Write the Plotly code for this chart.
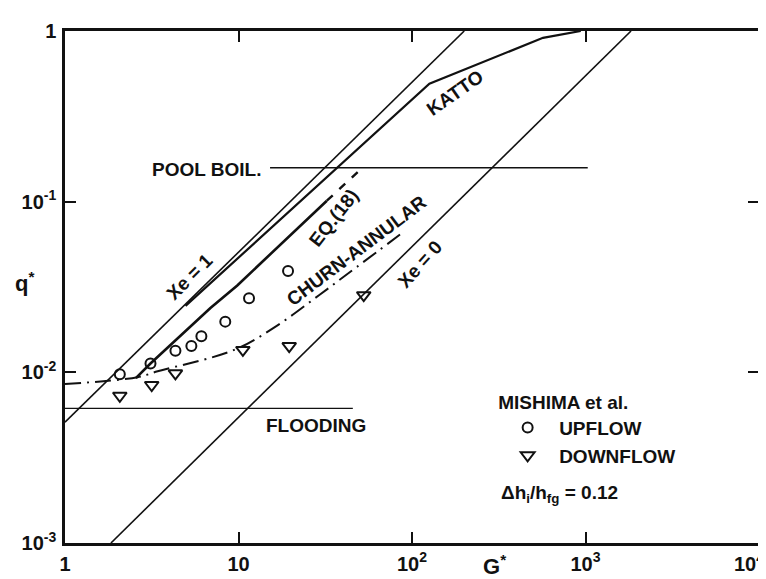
import plotly.graph_objects as go

# ---------------- data ----------------
up_G = [2.07, 3.11, 4.33, 5.35, 6.11, 8.39, 11.5, 19.3]
up_q = [0.00975, 0.01126, 0.01336, 0.01426, 0.01626, 0.01982, 0.0272, 0.0393]

down_G = [2.07, 3.16, 4.33, 10.6, 19.6, 52.7]
down_q = [0.00729, 0.00843, 0.00987, 0.01353, 0.01426, 0.0283]

xe1_G = [1.0, 200.0]
xe1_q = [0.0051, 1.0]

xe0_G = [1.84, 1830.0]
xe0_q = [0.001, 1.0]

katto_G = [4.95, 126.0, 569.0, 939.0]
katto_q = [0.0245, 0.491, 0.912, 1.0]

eq18_G = [2.56, 3.11, 6.89, 9.84, 32.3]
eq18_q = [0.00924, 0.01126, 0.0238, 0.0323, 0.1013]
eq18_ext_G = [32.3, 52.7]
eq18_ext_q = [0.1013, 0.1606]

churn_G = [1.0, 2.62, 3.42, 9.45, 16.7, 29.1, 48.0, 89.4]
churn_q = [0.00854, 0.00936, 0.01014, 0.01353, 0.0188, 0.0283, 0.0414, 0.0665]

pool_G = [15.2, 1030.0]
pool_q = [0.158, 0.158]

flood_G = [1.0, 45.6]
flood_q = [0.00615, 0.00615]

x_tickvals = [1, 10, 100, 1000, 10000]
x_ticktext = ["1", "10", "10<sup>2</sup>", "10<sup>3</sup>", ""]
x_last_label = "10<sup>4</sup>"
y_tickvals = [0.001, 0.01, 0.1, 1]
y_ticktext = ["10<sup>-3</sup>", "10<sup>-2</sup>", "10<sup>-1</sup>", "1"]

FONT = "Liberation Sans, Arial, Helvetica, sans-serif"
BLACK = "#111111"

fig = go.Figure()

def line(x, y, width=1.5, dash="solid", shape="linear"):
    fig.add_trace(go.Scatter(x=x, y=y, mode="lines", showlegend=False,
                             line=dict(color=BLACK, width=width, dash=dash, shape=shape),
                             hoverinfo="skip"))

line(xe1_G, xe1_q, 1.6)
line(xe0_G, xe0_q, 1.6)
line(katto_G, katto_q, 2.2)
line(eq18_G, eq18_q, 2.6)
line(eq18_ext_G, eq18_ext_q, 2.4, dash="8px,9px")
line(churn_G, churn_q, 2.0, dash="16px,6px,2px,6px", shape="spline")
line(pool_G, pool_q, 1.4)
line(flood_G, flood_q, 1.4)

fig.add_trace(go.Scatter(x=up_G, y=up_q, mode="markers", name="UPFLOW",
                         marker=dict(symbol="circle-open", size=10, color=BLACK,
                                     line=dict(width=2, color=BLACK))))
fig.add_trace(go.Scatter(x=down_G, y=down_q, mode="markers", name="DOWNFLOW",
                         marker=dict(symbol="triangle-down-open", size=12, color=BLACK,
                                     line=dict(width=2, color=BLACK))))

def ann(text, lx, ly, angle=0, size=19):
    fig.add_annotation(x=lx, y=ly, xref="x", yref="y",
                       text=text, showarrow=False, textangle=angle,
                       xanchor="center", yanchor="middle",
                       font=dict(family=FONT, size=size, color=BLACK, weight="bold"))

# label positions in log10 units
ann("Xe = 1", 0.720, -1.440, -45)
ann("EQ.(18)", 1.549, -1.091, -52)
ann("CHURN-ANNULAR", 1.681, -1.286, -37)
ann("Xe = 0", 2.043, -1.366, -48)
ann("KATTO", 2.250, -0.360, -35)
ann("POOL BOIL.", 0.815, -0.811)
ann("FLOODING", 1.446, -2.314)

W, H = 766, 579
L, R, T, B = 57, 12, 16, 38
pw, ph = W - L - R, H - T - B
def px(xp):
    return (xp - L) / pw
def py(yp):
    return (H - B - yp) / ph

def pann(text, x, y, size=19, xanchor="center"):
    fig.add_annotation(x=px(x), y=py(y), xref="paper", yref="paper",
                       xanchor=xanchor, yanchor="middle", text=text, showarrow=False,
                       font=dict(family=FONT, size=size, color=BLACK, weight="bold"))

pann("Δh<sub>i</sub>/h<sub>fg</sub> = 0.12", 493, 491, xanchor="left")
pann("q<sup>*</sup>", 16, 273, size=22)
pann("G<sup>*</sup>", 488, 564, size=22)
pann(x_last_label, 744, 561, size=20)

axis_common = dict(type="log", showgrid=False, zeroline=False, showline=True,
                   linecolor=BLACK, linewidth=2.5, mirror="ticks", ticks="inside",
                   ticklen=11, tickwidth=2, tickcolor=BLACK,
                   tickfont=dict(family=FONT, size=20, color=BLACK, weight="bold"))

fig.update_layout(
    width=W, height=H,
    margin=dict(l=L, r=R, t=T, b=B),
    paper_bgcolor="white", plot_bgcolor="white",
    xaxis=dict(range=[0, 4], tickvals=x_tickvals, ticktext=x_ticktext,
               ticklabelstandoff=1, **axis_common),
    yaxis=dict(range=[-3, 0], tickvals=y_tickvals, ticktext=y_ticktext,
               ticklabelstandoff=2, **axis_common),
    legend=dict(x=px(490), y=py(378), xanchor="left", yanchor="top",
                bgcolor="rgba(0,0,0,0)", itemwidth=53,
                title=dict(text="MISHIMA et al.",
                           font=dict(family=FONT, size=19, color=BLACK, weight="bold")),
                font=dict(family=FONT, size=19, color=BLACK, weight="bold")),
    font=dict(family=FONT, color=BLACK),
)

fig.write_html("out.html")
